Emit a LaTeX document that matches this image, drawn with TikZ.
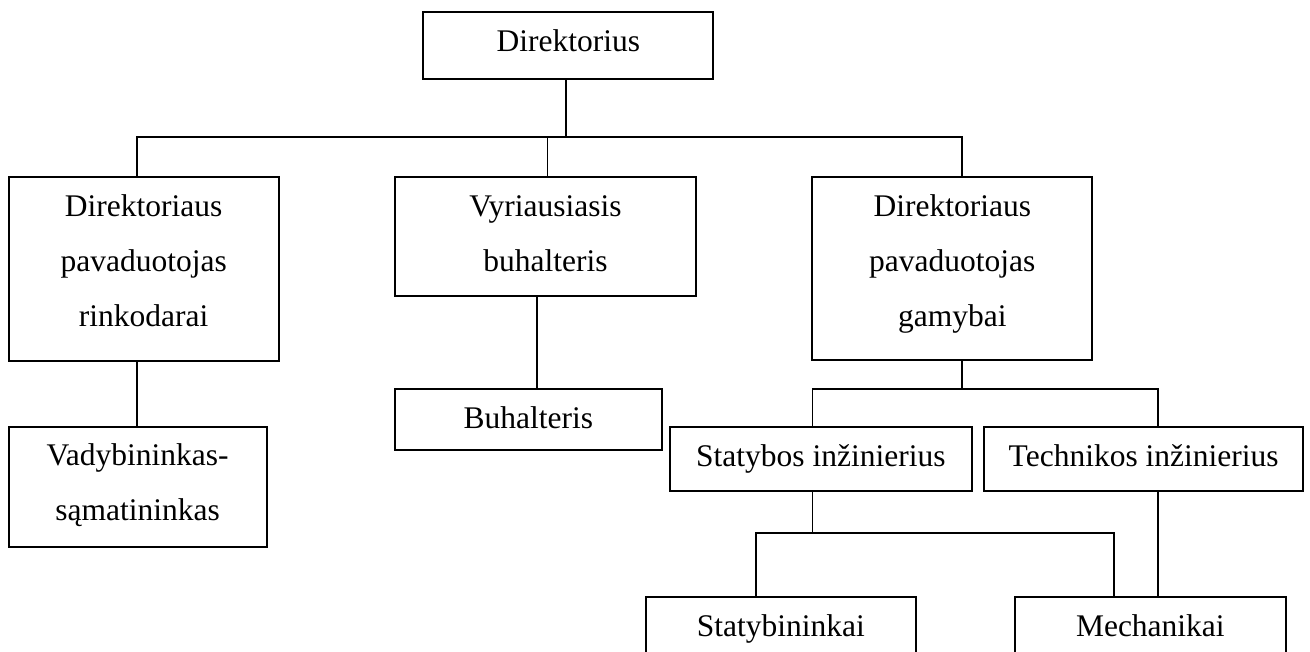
\documentclass[tikz,border=0pt]{standalone}
\usepackage{fontspec}
\setmainfont{Liberation Serif}
\begin{document}
\begin{tikzpicture}[x=1pt, y=-1pt,
  box/.style={draw, line width=2pt, rectangle, inner sep=0pt,
    font=\fontsize{31.5}{55}\selectfont},
  conn/.style={draw, line width=1.6pt}]
\useasboundingbox (0,0) rectangle (1310,652);
\clip (0,0) rectangle (1310,652);

% boxes (text height/depth place the first baseline inside each box)
\node[box, minimum width=290pt, minimum height=67.3pt, text height=12.7pt, text depth=0pt]
  (dir) at (568.3,45.35) {Direktorius};
\node[box, minimum width=270pt, minimum height=183.4pt, text height=0pt, text depth=104.6pt]
  (A) at (143.7,269) {\begin{tabular}[t]{@{}c@{}}Direktoriaus\\pavaduotojas\\rinkodarai\end{tabular}};
\node[box, minimum width=301pt, minimum height=118.7pt, text height=0pt, text depth=39.9pt]
  (B) at (545.5,236.65) {\begin{tabular}[t]{@{}c@{}}Vyriausiasis\\buhalteris\end{tabular}};
\node[box, minimum width=280pt, minimum height=183.2pt, text height=0pt, text depth=104.4pt]
  (C) at (952.3,268.9) {\begin{tabular}[t]{@{}c@{}}Direktoriaus\\pavaduotojas\\gamybai\end{tabular}};
\node[box, minimum width=258pt, minimum height=120.6pt, text height=0pt, text depth=44pt]
  (D) at (137.7,487) {\begin{tabular}[t]{@{}c@{}}Vadybininkas-\\sąmatininkas\end{tabular}};
\node[box, minimum width=266.7pt, minimum height=60.7pt, text height=17.3pt, text depth=0pt]
  (E) at (528.35,419.65) {Buhalteris};
\node[box, minimum width=301.7pt, minimum height=63.5pt, text height=15.9pt, text depth=0pt]
  (F) at (820.85,458.75) {Statybos inžinierius};
\node[box, minimum width=318.7pt, minimum height=63.5pt, text height=15.9pt, text depth=0pt]
  (G) at (1143.65,458.75) {Technikos inžinierius};
\node[box, minimum width=269.7pt, minimum height=64pt, text height=15.4pt, text depth=0pt]
  (H) at (780.85,629) {Statybininkai};
\node[box, minimum width=270.7pt, minimum height=64pt, text height=14pt, text depth=0pt]
  (I) at (1150.35,629) {Mechanikai};

% junction points of the connector lines
\coordinate (j0) at (565.7,137);
\coordinate (bL) at (137.2,137);
\coordinate (bM) at (547.3,137);
\coordinate (bR) at (961.7,137);
\coordinate (kE) at (536.9,0);
\coordinate (cC) at (961.7,389.3);
\coordinate (cF) at (812.3,389.3);
\coordinate (cG) at (1157.7,389.3);
\coordinate (hH) at (755.7,532.7);
\coordinate (hI) at (1113.7,532.7);

% connectors
\draw[conn] (dir.south -| j0) -- (j0);
\draw[conn] (A.north -| bL) -- (bL) -- (bR) -- (C.north -| bR);
\draw[conn] (bM) -- (B.north -| bM);
\draw[conn] (A.south -| bL) -- (D.north -| bL);
\draw[conn] (B.south -| kE) -- (E.north -| kE);
\draw[conn] (C.south -| cC) -- (cC);
\draw[conn] (F.north -| cF) -- (cF) -- (cG) -- (G.north -| cG);
\draw[conn] (F.south -| cF) -- (cF |- hH);
\draw[conn] (H.north -| hH) -- (hH) -- (hI) -- (I.north -| hI);
\draw[conn] (G.south -| cG) -- (I.north -| cG);
\end{tikzpicture}
\end{document}
